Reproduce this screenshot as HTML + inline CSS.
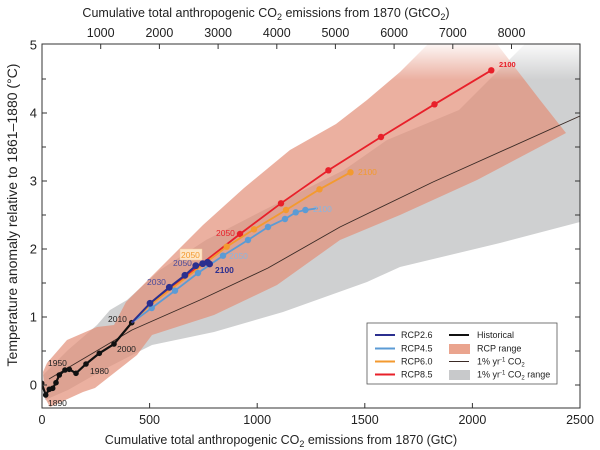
<!DOCTYPE html>
<html><head><meta charset="utf-8"><style>
html,body{margin:0;padding:0;background:#fff;}
svg{display:block;font-family:"Liberation Sans",Arial,sans-serif;}
</style></head><body>
<svg width="600" height="450" viewBox="0 0 600 450" xmlns="http://www.w3.org/2000/svg">
<defs>
<clipPath id="pc"><rect x="42" y="44" width="538" height="364"/></clipPath>
<linearGradient id="fadeS" x1="0" y1="0" x2="0" y2="1">
<stop offset="0" stop-color="#ffffff" stop-opacity="0.9"/>
<stop offset="0.3" stop-color="#ffffff" stop-opacity="0"/>
</linearGradient>
</defs>
<g clip-path="url(#pc)">
<polygon fill="#cfd0d1" points="43,375 68,350 97,325 110,310 127,300 160,270 206,240 264,210 344,170 387,140 459,110 525,44 580,44 580,222 500,243 400,267 367,282 283,312 214,332 152,345 132,355 103,370 68,390 45,400"/>
<polygon fill="#e28f78" fill-opacity="0.7" points="43,372 47,363 67,340 97,327 114,325 126,302 160,268 183,245 203,225 244,188 290,150 336,124 367,100 400,72 428,44 497,44 540,100 566,133 477,180 400,215 340,240 277,285 214,315 152,335 137,355 95,388 83,392 50,407 45,398"/>
<rect x="340" y="44" width="240" height="120" fill="url(#fadeS)"/>
<polyline fill="none" stroke="#3a2a25" stroke-width="0.9" points="49,379 132,330 200,300 268,268 340,227 433,182 580,116"/>
<polyline fill="none" stroke="#111" stroke-width="2.2" points="41.7,383.3 45.7,395 49.3,389.3 52.7,388.3 56,382.7 59.3,375 65,370 69.3,369.3 76,373.3 86,364 99.3,353.3 114,344 131.7,322.7"/>
<g fill="#111">
<circle cx="41.7" cy="383.3" r="2.8"/><circle cx="45.7" cy="395" r="2.8"/><circle cx="49.3" cy="389.3" r="2.8"/><circle cx="52.7" cy="388.3" r="2.8"/><circle cx="56" cy="382.7" r="2.8"/><circle cx="59.3" cy="375" r="2.8"/><circle cx="65" cy="370" r="2.8"/><circle cx="69.3" cy="369.3" r="2.8"/><circle cx="76" cy="373.3" r="2.8"/><circle cx="86" cy="364" r="2.8"/><circle cx="99.3" cy="353.3" r="2.8"/><circle cx="114" cy="344" r="2.8"/><circle cx="131.7" cy="322.7" r="2.8"/>
</g>
<polyline fill="none" stroke="#e8202a" stroke-width="1.8" points="131.7,322.7 150,304 240,234 281,203.3 328.4,170.3 381,137 434.5,104.3 491.3,70.3"/>
<g fill="#e8202a"><circle cx="240" cy="234" r="3.2"/><circle cx="281" cy="203.3" r="3.2"/><circle cx="328.4" cy="170.3" r="3.2"/><circle cx="381" cy="137" r="3.2"/><circle cx="434.5" cy="104.3" r="3.2"/><circle cx="491.3" cy="70.3" r="3.2"/></g>
<polyline fill="none" stroke="#f39a2f" stroke-width="1.8" points="131.7,322.7 150,305 226.7,246.7 254,229.3 286,210 319.5,189.3 350.5,172.3"/>
<g fill="#f39a2f"><circle cx="226.7" cy="246.7" r="3.2"/><circle cx="254" cy="229.3" r="3.2"/><circle cx="286" cy="210" r="3.2"/><circle cx="319.5" cy="189.3" r="3.2"/><circle cx="350.5" cy="172.3" r="3.2"/></g>
<polyline fill="none" stroke="#5b9bd5" stroke-width="1.8" points="131.7,322.7 151.7,308 175,290.7 198,273 223,255.7 248,240 268,227 285,219 295.8,212.3 305.4,210 317.7,208.3"/>
<g fill="#5b9bd5"><circle cx="151.7" cy="308" r="3.2"/><circle cx="175" cy="290.7" r="3.2"/><circle cx="198" cy="273" r="3.2"/><circle cx="223" cy="255.7" r="3.2"/><circle cx="248" cy="240" r="3.2"/><circle cx="268" cy="227" r="3.2"/><circle cx="285" cy="219" r="3.2"/><circle cx="295.8" cy="212.3" r="3.2"/><circle cx="305.4" cy="210" r="3.2"/></g>
<polyline fill="none" stroke="#2b2f8f" stroke-width="2" points="131.7,322.7 150,303.3 169.3,287.3 184.9,275.3 195.8,265.7 202.7,263.7 207.6,262.3 209.6,264"/>
<g fill="#2b2f8f"><circle cx="150" cy="303.3" r="3.4"/><circle cx="169.3" cy="287.3" r="3.4"/><circle cx="184.9" cy="275.3" r="3.4"/><circle cx="195.8" cy="265.7" r="3.4"/><circle cx="202.7" cy="263.7" r="3.4"/><circle cx="207.6" cy="262.3" r="3.4"/><circle cx="209.6" cy="264" r="3.4"/></g>
</g>
<g font-size="8.5">
<text x="48" y="366" fill="#222">1950</text>
<text x="48" y="406" fill="#222">1890</text>
<text x="90" y="374" fill="#222">1980</text>
<text x="117" y="352" fill="#222">2000</text>
<text x="108" y="322" fill="#222">2010</text>
<text x="147" y="285" fill="#4a4a9a">2030</text>
<text x="173" y="266" fill="#4a4a9a">2050</text>
<rect x="180" y="249" width="22" height="11" fill="#fde6c8" stroke="#f6c89a" stroke-width="0.5"/>
<text x="181" y="258" fill="#f39a2f">2050</text>
<text x="216" y="236" fill="#e8202a">2050</text>
<text x="215" y="273" fill="#2b2f8f" font-weight="bold">2100</text>
<text x="358" y="175" fill="#f39a2f">2100</text>
<text x="499" y="67" fill="#e8202a" font-weight="bold" font-size="7.5">2100</text>
<text x="313" y="212" fill="#8ab5df">2100</text>
<text x="229" y="259" fill="#8ab5df">2050</text>
</g>
<rect x="42" y="44" width="538" height="364" fill="none" stroke="#333" stroke-width="1"/>
<g stroke="#333" stroke-width="1">
<line x1="149.6" y1="408" x2="149.6" y2="403"/><line x1="257.2" y1="408" x2="257.2" y2="403"/><line x1="364.8" y1="408" x2="364.8" y2="403"/><line x1="472.4" y1="408" x2="472.4" y2="403"/>
<line x1="100.7" y1="44" x2="100.7" y2="49"/><line x1="159.4" y1="44" x2="159.4" y2="49"/><line x1="218.1" y1="44" x2="218.1" y2="49"/><line x1="276.8" y1="44" x2="276.8" y2="49"/><line x1="335.4" y1="44" x2="335.4" y2="49"/><line x1="394.1" y1="44" x2="394.1" y2="49"/><line x1="452.8" y1="44" x2="452.8" y2="49"/><line x1="511.5" y1="44" x2="511.5" y2="49"/>
<line x1="42" y1="385" x2="47" y2="385"/><line x1="42" y1="351" x2="46" y2="351"/><line x1="42" y1="317" x2="47" y2="317"/><line x1="42" y1="283" x2="46" y2="283"/><line x1="42" y1="249" x2="47" y2="249"/><line x1="42" y1="215" x2="46" y2="215"/><line x1="42" y1="181" x2="47" y2="181"/><line x1="42" y1="147" x2="46" y2="147"/><line x1="42" y1="113" x2="47" y2="113"/><line x1="42" y1="79" x2="46" y2="79"/>
<line x1="580" y1="385" x2="575" y2="385"/><line x1="580" y1="351" x2="575" y2="351"/><line x1="580" y1="317" x2="575" y2="317"/><line x1="580" y1="283" x2="575" y2="283"/><line x1="580" y1="249" x2="575" y2="249"/><line x1="580" y1="215" x2="575" y2="215"/><line x1="580" y1="181" x2="575" y2="181"/><line x1="580" y1="147" x2="575" y2="147"/><line x1="580" y1="113" x2="575" y2="113"/><line x1="580" y1="79" x2="575" y2="79"/>
</g>
<g font-size="12.5" fill="#222" text-anchor="middle">
<text x="42" y="424">0</text><text x="149.6" y="424">500</text><text x="257.2" y="424">1000</text><text x="364.8" y="424">1500</text><text x="472.4" y="424">2000</text><text x="580" y="424">2500</text>
<text x="100.7" y="37">1000</text><text x="159.4" y="37">2000</text><text x="218.1" y="37">3000</text><text x="276.8" y="37">4000</text><text x="335.4" y="37">5000</text><text x="394.1" y="37">6000</text><text x="452.8" y="37">7000</text><text x="511.5" y="37">8000</text>
</g>
<g font-size="13" fill="#222" text-anchor="end">
<text x="37" y="389.5">0</text><text x="37" y="321.5">1</text><text x="37" y="253.5">2</text><text x="37" y="185.5">3</text><text x="37" y="117.5">4</text><text x="37" y="49.5">5</text>
</g>
<text x="281" y="444" font-size="12.5" fill="#222" text-anchor="middle">Cumulative total anthropogenic CO<tspan font-size="9" dy="3">2</tspan><tspan dy="-3"> emissions from 1870 (GtC)</tspan></text>
<text x="266" y="17" font-size="12.5" fill="#222" text-anchor="middle">Cumulative total anthropogenic CO<tspan font-size="9" dy="3">2</tspan><tspan dy="-3"> emissions from 1870 (GtCO</tspan><tspan font-size="9" dy="3">2</tspan><tspan dy="-3">)</tspan></text>
<text transform="translate(17,215) rotate(-90)" font-size="14" fill="#222" text-anchor="middle">Temperature anomaly relative to 1861–1880 (°C)</text>
<rect x="367" y="323" width="190" height="61" fill="#fff" stroke="#555" stroke-width="0.8"/>
<g font-size="9" fill="#222">
<line x1="375" y1="335" x2="395" y2="335" stroke="#2b2f8f" stroke-width="2"/><text x="401" y="338">RCP2.6</text>
<line x1="375" y1="348.5" x2="395" y2="348.5" stroke="#5b9bd5" stroke-width="2"/><text x="401" y="351.5">RCP4.5</text>
<line x1="375" y1="361.5" x2="395" y2="361.5" stroke="#f39a2f" stroke-width="2"/><text x="401" y="364.5">RCP6.0</text>
<line x1="375" y1="374.5" x2="395" y2="374.5" stroke="#e8202a" stroke-width="2"/><text x="401" y="377.5">RCP8.5</text>
<line x1="449" y1="335" x2="469" y2="335" stroke="#111" stroke-width="2"/><text x="477" y="338">Historical</text>
<rect x="449" y="344" width="21" height="10" fill="#eaa48e"/><text x="477" y="351.5">RCP range</text>
<line x1="449" y1="361.5" x2="469" y2="361.5" stroke="#3a2a25" stroke-width="0.9"/><text x="477" y="364.5">1% yr<tspan font-size="6" dy="-3">-1</tspan><tspan dy="3"> CO</tspan><tspan font-size="6" dy="2">2</tspan></text>
<rect x="449" y="370" width="21" height="10" fill="#c8c9cb"/><text x="477" y="377.5">1% yr<tspan font-size="6" dy="-3">-1</tspan><tspan dy="3"> CO</tspan><tspan font-size="6" dy="2">2</tspan><tspan dy="-2"> range</tspan></text>
</g>
</svg>
</body></html>
